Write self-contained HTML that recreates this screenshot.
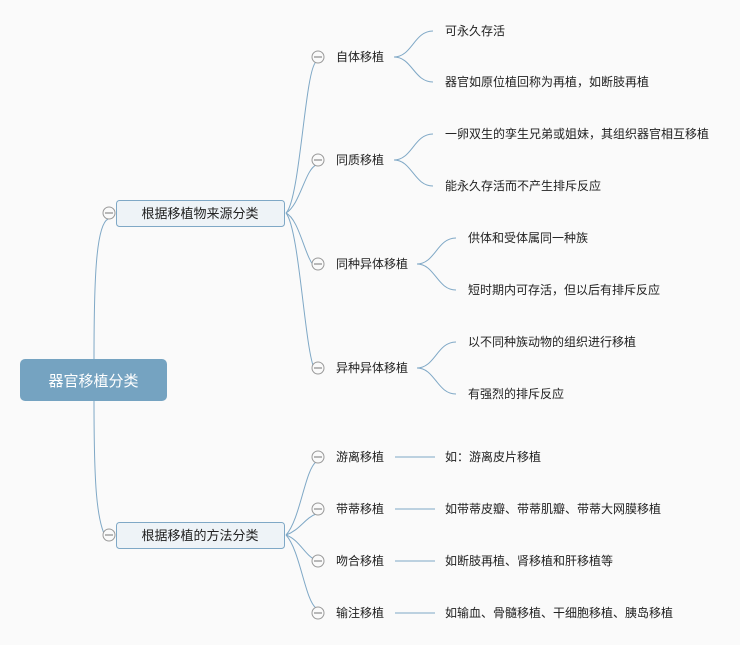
<!DOCTYPE html>
<html><head><meta charset="utf-8"><style>
html,body{margin:0;padding:0;background:#fafafa;}
svg{display:block;font-family:"Liberation Sans","Noto Sans CJK SC",sans-serif;}
</style></head><body>
<svg width="740" height="645" viewBox="0 0 740 645" xmlns="http://www.w3.org/2000/svg">
<rect width="740" height="645" fill="#fafafa"/>
<g fill="none" stroke="#7fa8c6" stroke-width="1">
<!-- root to L1 -->
<path d="M94 359 C94 280 96 225 108 219"/>
<path d="M94 401 C94 480 96 525 108 541"/>
<!-- L1 top to L2 -->
<path d="M286 213 C300 200 305 70 316 62"/>
<path d="M286 213 C300 205 305 170 316 165"/>
<path d="M286 213 C300 220 305 260 316 268"/>
<path d="M286 213 C300 230 305 360 316 372"/>
<!-- L1 bottom to L2 -->
<path d="M286 535 C300 520 305 470 316 462"/>
<path d="M286 535 C300 530 305 518 316 514"/>
<path d="M286 535 C300 540 305 556 316 560"/>
<path d="M286 535 C300 550 305 600 316 608"/>
<!-- leaf curves -->
<path d="M394 57 C412 57 414 31 433 31"/><path d="M394 57 C412 57 414 82 433 82"/>
<path d="M394 160 C412 160 414 134 433 134"/><path d="M394 160 C412 160 414 186 433 186"/>
<path d="M417 264 C435 264 437 238 456 238"/><path d="M417 264 C435 264 437 290 456 290"/>
<path d="M417 368 C435 368 437 342 456 342"/><path d="M417 368 C435 368 437 394 456 394"/>
<path d="M395 457 H435"/><path d="M395 509 H435"/><path d="M395 561 H435"/><path d="M395 613 H435"/>
</g>
<rect x="20" y="359" width="147" height="42" rx="5" fill="#75a3c1"/>
<text x="93.5" y="386" text-anchor="middle" fill="#fff" font-size="15">器官移植分类</text>
<rect x="116.5" y="200.5" width="168" height="26" rx="3" fill="#eef3f7" stroke="#7fa8c6"/>
<text x="200" y="218" text-anchor="middle" font-size="13" fill="#222">根据移植物来源分类</text>
<rect x="116.5" y="522.5" width="168" height="26" rx="3" fill="#eef3f7" stroke="#7fa8c6"/>
<text x="200" y="540" text-anchor="middle" font-size="13" fill="#222">根据移植的方法分类</text>
<g fill="#fafafa" stroke="#999" stroke-width="1">
<circle cx="109" cy="213" r="6"/><circle cx="109" cy="535" r="6"/>
<circle cx="318" cy="57" r="6"/><circle cx="318" cy="160" r="6"/><circle cx="318" cy="264" r="6"/><circle cx="318" cy="368" r="6"/>
<circle cx="318" cy="457" r="6"/><circle cx="318" cy="509" r="6"/><circle cx="318" cy="561" r="6"/><circle cx="318" cy="613" r="6"/>
</g>
<g stroke="#777" stroke-width="1">
<path d="M105 213H113M105 535H113M314 57H322M314 160H322M314 264H322M314 368H322M314 457H322M314 509H322M314 561H322M314 613H322"/>
</g>
<g font-size="12" fill="#222">
<text x="336" y="61">自体移植</text>
<text x="336" y="164">同质移植</text>
<text x="336" y="268">同种异体移植</text>
<text x="336" y="372">异种异体移植</text>
<text x="336" y="461">游离移植</text>
<text x="336" y="513">带蒂移植</text>
<text x="336" y="565">吻合移植</text>
<text x="336" y="617">输注移植</text>
<text x="445" y="35">可永久存活</text>
<text x="445" y="86">器官如原位植回称为再植，如断肢再植</text>
<text x="445" y="138">一卵双生的孪生兄弟或姐妹，其组织器官相互移植</text>
<text x="445" y="190">能永久存活而不产生排斥反应</text>
<text x="468" y="242">供体和受体属同一种族</text>
<text x="468" y="294">短时期内可存活，但以后有排斥反应</text>
<text x="468" y="346">以不同种族动物的组织进行移植</text>
<text x="468" y="398">有强烈的排斥反应</text>
<text x="445" y="461">如：游离皮片移植</text>
<text x="445" y="513">如带蒂皮瓣、带蒂肌瓣、带蒂大网膜移植</text>
<text x="445" y="565">如断肢再植、肾移植和肝移植等</text>
<text x="445" y="617">如输血、骨髓移植、干细胞移植、胰岛移植</text>
</g>
</svg>
</body></html>
